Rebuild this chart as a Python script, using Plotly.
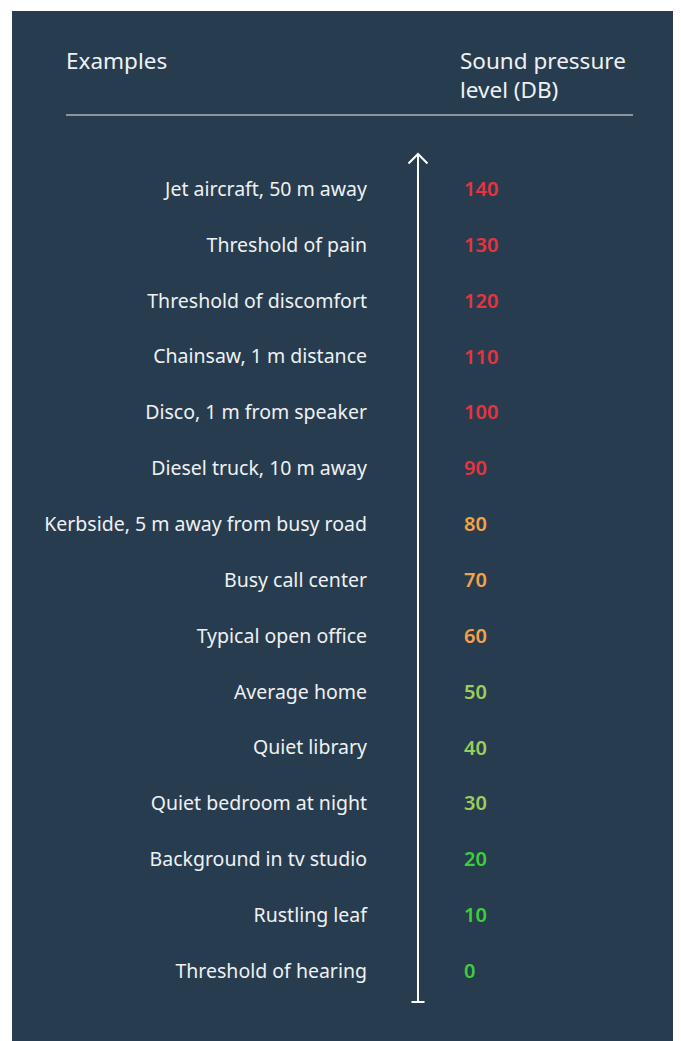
import plotly.graph_objects as go

examples = [
    "Jet aircraft, 50 m away",
    "Threshold of pain",
    "Threshold of discomfort",
    "Chainsaw, 1 m distance",
    "Disco, 1 m from speaker",
    "Diesel truck, 10 m away",
    "Kerbside, 5 m away from busy road",
    "Busy call center",
    "Typical open office",
    "Average home",
    "Quiet library",
    "Quiet bedroom at night",
    "Background in tv studio",
    "Rustling leaf",
    "Threshold of hearing",
]
levels = [140, 130, 120, 110, 100, 90, 80, 70, 60, 50, 40, 30, 20, 10, 0]
level_colors = ["#e8333e"] * 6 + ["#f4a24a"] * 3 + ["#9acd5b"] * 3 + ["#3ccf3c"] * 3

OFF = 8  # page body margin
W, H = 681 - OFF, 1041 - OFF
BG = "#283c4f"
TXT = "#eef1f3"
FONT = "Noto Sans"

# pixel geometry (page pixels) -> data scale
p140, p0 = 191, 973
slope = (p0 - p140) / 140.0


def X(p):
    return p - OFF


def v(p):
    return 140 - (p - p140) / slope


def py(p):
    return (H - (p - OFF)) / H


fig = go.Figure()

fig.add_trace(go.Scatter(
    x=[X(367)] * len(levels), y=levels, mode="text", text=examples,
    textposition="middle left",
    textfont=dict(family=FONT, size=19.5, color=TXT),
    hoverinfo="skip", showlegend=False,
))
fig.add_trace(go.Scatter(
    x=[X(464)] * len(levels), y=levels, mode="text", text=[str(l) for l in levels],
    textposition="middle right",
    textfont=dict(family=FONT, size=20, color=level_colors, weight=600),
    hoverinfo="skip", showlegend=False,
))

shapes = [
    dict(type="rect", xref="x", yref="paper", x0=X(12), x1=X(675), y0=0, y1=py(11),
         fillcolor=BG, line=dict(width=0), layer="below"),
    dict(type="line", xref="x", yref="paper", x0=X(66), x1=X(633), y0=py(115), y1=py(115),
         line=dict(color="#aab3bc", width=1.5)),
    # arrow shaft
    dict(type="line", xref="x", yref="y", x0=X(418), x1=X(418), y0=v(1002), y1=v(154),
         line=dict(color="white", width=2)),
    # arrow head
    dict(type="path", xref="x", yref="y",
         path=f"M {X(408.5)} {v(163.5)} L {X(418)} {v(154)} L {X(427.5)} {v(163.5)}",
         line=dict(color="white", width=2)),
    # bottom cap
    dict(type="line", xref="x", yref="y", x0=X(411.5), x1=X(424.5), y0=v(1002), y1=v(1002),
         line=dict(color="white", width=2)),
]

annotations = [
    dict(text="Examples", x=X(64), y=py(61), xref="x", yref="paper", xanchor="left",
         yanchor="middle", showarrow=False, font=dict(family=FONT, size=22.5, color=TXT)),
    dict(text="Sound pressure<br>level (DB)", x=X(458), y=py(75), xref="x", yref="paper",
         xanchor="left", yanchor="middle", align="left", showarrow=False,
         font=dict(family=FONT, size=22.5, color=TXT)),
]

fig.update_layout(
    width=W, height=H, margin=dict(l=0, r=0, t=0, b=0),
    paper_bgcolor="white", plot_bgcolor="rgba(0,0,0,0)",
    xaxis=dict(range=[0, W], visible=False, fixedrange=True),
    yaxis=dict(range=[v(H + OFF), v(OFF)], visible=False, fixedrange=True),
    shapes=shapes, annotations=annotations,
)

fig.write_html("out.html")
